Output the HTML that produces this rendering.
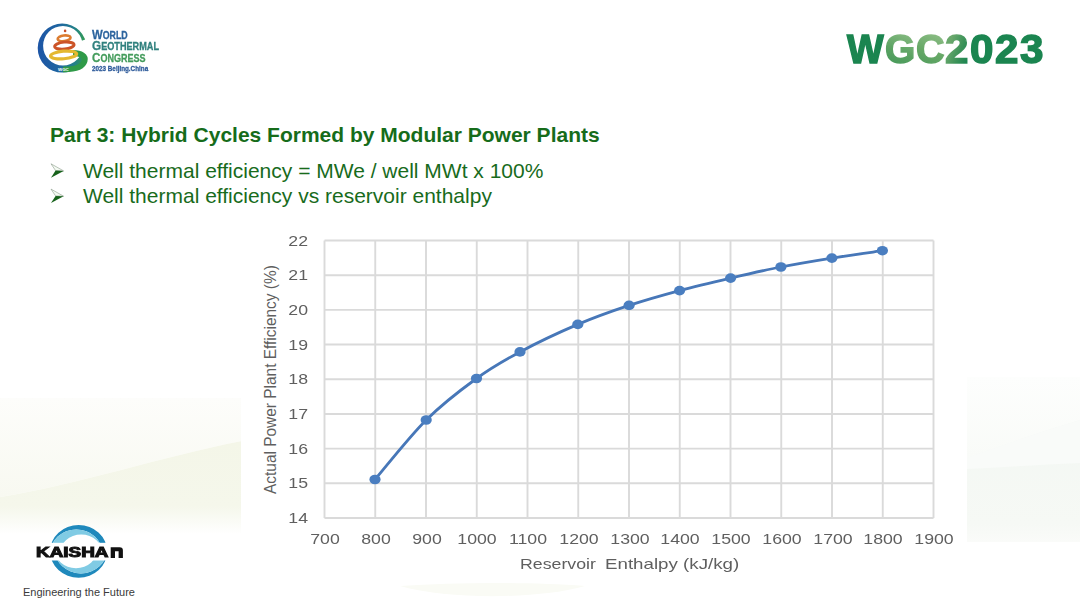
<!DOCTYPE html>
<html><head><meta charset="utf-8">
<style>
html,body{margin:0;padding:0;}
body{width:1080px;height:607px;position:relative;overflow:hidden;background:#fff;font-family:"Liberation Sans",sans-serif;}
.abs{position:absolute;white-space:nowrap;}
.title{left:50px;top:123px;font-size:21px;line-height:24px;font-weight:bold;color:#166c1a;}
.b{left:83px;font-size:21px;line-height:24px;color:#186b1c;}
.wg{top:19px;transform-origin:0 0;font-size:41px;line-height:60px;font-weight:bold;color:#1b8550;-webkit-text-stroke:1.5px currentColor;}
.lt{left:92px;font-weight:bold;transform-origin:0 0;line-height:14px;-webkit-text-stroke:0.3px currentColor;}
.yl{left:262px;width:46px;text-align:right;font-size:15px;line-height:18px;color:#5f5f5f;transform-origin:100% 50%;transform:scaleX(1.18);}
.xl{top:529.5px;width:60px;text-align:center;font-size:15px;line-height:18px;color:#5f5f5f;transform:scaleX(1.18);}
</style></head><body>
<svg class="abs" style="left:0;top:0" width="1080" height="607" viewBox="0 0 1080 607">
  <defs>
    <linearGradient id="band" x1="0" y1="0" x2="0" y2="1">
      <stop offset="0" stop-color="#f8faf1" stop-opacity="0"/>
      <stop offset="0.25" stop-color="#f8faf1" stop-opacity="1"/>
      <stop offset="0.85" stop-color="#f6f8ec" stop-opacity="1"/>
      <stop offset="1" stop-color="#f8faf1" stop-opacity="0"/>
    </linearGradient>
  </defs>
  <linearGradient id="fadeL" x1="0" y1="0" x2="0" y2="1">
      <stop offset="0" stop-color="#f4f6e8"/>
      <stop offset="0.7" stop-color="#f5f7eb"/>
      <stop offset="1" stop-color="#ffffff"/>
  </linearGradient>
  <linearGradient id="topR" x1="0" y1="0" x2="0" y2="1">
      <stop offset="0" stop-color="#fdfefd"/>
      <stop offset="1" stop-color="#f9fbf8"/>
  </linearGradient>
  <linearGradient id="fadeR" x1="0" y1="0" x2="0" y2="1">
      <stop offset="0" stop-color="#f3f7f3"/>
      <stop offset="0.85" stop-color="#f6f9f5"/>
      <stop offset="1" stop-color="#fafbf9"/>
  </linearGradient>
  <linearGradient id="topL" x1="0" y1="0" x2="0" y2="1">
      <stop offset="0" stop-color="#fdfdfb"/>
      <stop offset="1" stop-color="#f8f9f1"/>
  </linearGradient>
  <path d="M0 398 L242 398 L242 441 C 160 457, 80 484, 0 497 Z" fill="url(#topL)"/>
  <path d="M0 497 C 80 484, 160 457, 242 441 L242 534 L0 534 Z" fill="url(#fadeL)"/>
  <path d="M966 377 L1080 377 L1080 420 C 1040 432, 1000 446, 966 458 Z" fill="url(#topR)"/>
  <path d="M966 458 C 1000 446, 1040 432, 1080 420 L1080 542 L966 542 Z" fill="url(#fadeR)"/>
  <path d="M966 458 C 1000 446, 1040 432, 1080 420 L1080 463 C 1040 465, 1000 467, 966 469 Z" fill="#f9fbf9"/>
</svg>

<!-- WGC logo -->
<svg class="abs" style="left:0;top:0" width="200" height="90" viewBox="0 0 200 90">
  <defs>
    <linearGradient id="ring" x1="0" y1="0" x2="1" y2="0">
      <stop offset="0" stop-color="#1d55a6"/>
      <stop offset="0.45" stop-color="#1f66a0"/>
      <stop offset="0.75" stop-color="#23808a"/>
      <stop offset="1" stop-color="#35a04a"/>
    </linearGradient>
    <linearGradient id="ringb" x1="0" y1="0" x2="1" y2="0">
      <stop offset="0" stop-color="#1f5fa6"/>
      <stop offset="0.5" stop-color="#1f7a8a"/>
      <stop offset="1" stop-color="#2f9e45"/>
    </linearGradient>
  </defs>
  <mask id="gap"><rect x="0" y="0" width="200" height="90" fill="#fff"/><path d="M62 48 L100 34 L100 62 Z" fill="#000"/></mask>
  <path d="M37.7 48.1 A24.5 24.5 0 1 0 86.7 48.1 A24.5 24.5 0 1 0 37.7 48.1 Z M43.1 45.8 A19.8 19.8 0 1 1 82.7 45.8 A19.8 19.8 0 1 1 43.1 45.8 Z" fill="url(#ring)" fill-rule="evenodd" mask="url(#gap)"/>
  <path d="M73 53 C 81 53, 86 56, 84.6 61 C 83 66.5, 76 69.6, 63 69.4" fill="none" stroke="#2f9a48" stroke-width="5.8"/>
  <ellipse cx="64.2" cy="38.3" rx="6.5" ry="2.8" fill="none" stroke="#dc7c30" stroke-width="2.6" transform="rotate(-8 64 39)"/>
  <ellipse cx="64.4" cy="45.6" rx="9.7" ry="3.5" fill="none" stroke="#cc5428" stroke-width="3" transform="rotate(-6 64.5 46)"/>
  <ellipse cx="63.6" cy="55" rx="13.1" ry="3.8" fill="none" stroke="#e4b830" stroke-width="3.2" transform="rotate(-5 63.5 55)"/>
  <circle cx="65.1" cy="30.9" r="1.3" fill="#c8502a"/>
  <text x="63.4" y="71.2" font-family="Liberation Sans" font-weight="bold" font-size="4.4" fill="#fff" text-anchor="middle">WGC</text>
</svg>
<div class="abs lt" style="top:26.7px;color:#2c649e;transform:scaleX(0.84)"><span style="font-size:13.5px">W</span><span style="font-size:10.5px">ORLD</span></div>
<div class="abs lt" style="top:38.3px;color:#30807e;transform:scaleX(0.87)"><span style="font-size:13.5px">G</span><span style="font-size:10.5px">EOTHERMAL</span></div>
<div class="abs lt" style="top:49.9px;color:#449c5c;transform:scaleX(0.86)"><span style="font-size:13.5px">C</span><span style="font-size:10.5px">ONGRESS</span></div>
<div class="abs lt" style="top:61.8px;font-size:7.8px;color:#2d5a9a;transform:scaleX(0.81)">2023 Beijing.China</div>

<div class="abs wg" style="left:847.2px;transform:scaleX(0.947)">W</div>
<div class="abs wg" style="left:884.9px;transform:scaleX(0.95);color:#5ea663;background:linear-gradient(200deg,#8cbd84 20%,#5aa262 55%,#3f9656 85%);-webkit-background-clip:text;background-clip:text;-webkit-text-fill-color:transparent;-webkit-text-stroke:1.5px transparent">G</div>
<div class="abs wg" style="left:915.5px;transform:scaleX(0.965);color:#6aac6a;background:linear-gradient(200deg,#90bf88 20%,#66a866 55%,#4a9a5a 85%);-webkit-background-clip:text;background-clip:text;-webkit-text-fill-color:transparent;-webkit-text-stroke:1.5px transparent">C</div>
<div class="abs wg" style="left:945px;transform:scaleX(1.026);color:#4b9a5c;background:linear-gradient(110deg,#6aa86c 30%,#3a9258 60%,#1f8752 80%);-webkit-background-clip:text;background-clip:text;-webkit-text-fill-color:transparent;-webkit-text-stroke:1.5px transparent">2</div>
<div class="abs wg" style="left:969.5px;transform:scaleX(1.026)">0</div>
<div class="abs wg" style="left:994.5px;transform:scaleX(1.026)">2</div>
<div class="abs wg" style="left:1019.9px;transform:scaleX(1.026)">3</div>

<div class="abs title">Part 3: Hybrid Cycles Formed by Modular Power Plants</div>
<svg class="abs" style="left:0;top:0" width="80" height="220" viewBox="0 0 80 220">
  <g id="arr">
    <path d="M51 163.8 L63.6 170.9 L55.6 170.6 Z" fill="#f4faf2" stroke="#8a9a8a" stroke-width="0.6"/>
    <path d="M55.6 170.6 L63.6 170.9 L51 177.8 Z" fill="#17621b"/>
  </g>
  <use href="#arr" transform="translate(0,25.3)"/>
</svg>
<div class="abs b" style="top:159px">Well thermal efficiency = MWe / well MWt x 100%</div>
<div class="abs b" style="top:184.3px">Well thermal efficiency vs reservoir enthalpy</div>

<!-- chart -->
<div class="abs" style="left:241px;top:222px;width:726px;height:362px;background:#fff"></div>
<svg class="abs" style="left:0;top:0" width="1080" height="607" viewBox="0 0 1080 607"><path d="M400 586 C 460 582, 530 582, 585 586 C 540 599, 450 600, 400 586 Z" fill="#fafbf5"/></svg>
<svg class="abs" style="left:0;top:0" width="1080" height="607" viewBox="0 0 1080 607">
  <g stroke="#dadada" stroke-width="1.9" fill="none">
<line x1="324.50" y1="240.5" x2="324.50" y2="518.0"/>
<line x1="375.25" y1="240.5" x2="375.25" y2="518.0"/>
<line x1="426.00" y1="240.5" x2="426.00" y2="518.0"/>
<line x1="476.75" y1="240.5" x2="476.75" y2="518.0"/>
<line x1="527.50" y1="240.5" x2="527.50" y2="518.0"/>
<line x1="578.25" y1="240.5" x2="578.25" y2="518.0"/>
<line x1="629.00" y1="240.5" x2="629.00" y2="518.0"/>
<line x1="679.75" y1="240.5" x2="679.75" y2="518.0"/>
<line x1="730.50" y1="240.5" x2="730.50" y2="518.0"/>
<line x1="781.25" y1="240.5" x2="781.25" y2="518.0"/>
<line x1="832.00" y1="240.5" x2="832.00" y2="518.0"/>
<line x1="882.75" y1="240.5" x2="882.75" y2="518.0"/>
<line x1="933.50" y1="240.5" x2="933.50" y2="518.0"/>
<line x1="324.5" y1="240.50" x2="933.5" y2="240.50"/>
<line x1="324.5" y1="275.19" x2="933.5" y2="275.19"/>
<line x1="324.5" y1="309.88" x2="933.5" y2="309.88"/>
<line x1="324.5" y1="344.56" x2="933.5" y2="344.56"/>
<line x1="324.5" y1="379.25" x2="933.5" y2="379.25"/>
<line x1="324.5" y1="413.94" x2="933.5" y2="413.94"/>
<line x1="324.5" y1="448.62" x2="933.5" y2="448.62"/>
<line x1="324.5" y1="483.31" x2="933.5" y2="483.31"/>
<line x1="324.5" y1="518.00" x2="933.5" y2="518.00"/>
  </g>
  <path d="M375.00 479.50 C383.53 469.58 409.28 436.83 426.20 420.00 C443.12 403.17 460.87 389.85 476.50 378.50 C492.13 367.15 503.12 360.92 520.00 351.90 C536.88 342.88 559.62 332.15 577.80 324.40 C595.98 316.65 612.13 311.03 629.10 305.40 C646.07 299.77 662.68 295.15 679.60 290.60 C696.52 286.05 713.72 282.03 730.60 278.10 C747.48 274.17 764.02 270.33 780.90 267.00 C797.78 263.67 814.98 260.82 831.90 258.10 C848.82 255.38 873.98 251.93 882.40 250.70" fill="none" stroke="#4777b8" stroke-width="2.8"/>
  <g fill="#4a7ec0">
<ellipse cx="375.0" cy="479.5" rx="5.6" ry="4.8"/>
<ellipse cx="426.2" cy="420.0" rx="5.6" ry="4.8"/>
<ellipse cx="476.5" cy="378.5" rx="5.6" ry="4.8"/>
<ellipse cx="520.0" cy="351.9" rx="5.6" ry="4.8"/>
<ellipse cx="577.8" cy="324.4" rx="5.6" ry="4.8"/>
<ellipse cx="629.1" cy="305.4" rx="5.6" ry="4.8"/>
<ellipse cx="679.6" cy="290.6" rx="5.6" ry="4.8"/>
<ellipse cx="730.6" cy="278.1" rx="5.6" ry="4.8"/>
<ellipse cx="780.9" cy="267.0" rx="5.6" ry="4.8"/>
<ellipse cx="831.9" cy="258.1" rx="5.6" ry="4.8"/>
<ellipse cx="882.4" cy="250.7" rx="5.6" ry="4.8"/>
  </g>
</svg>
<div class="abs yl" style="top:231.50px">22</div>
<div class="abs yl" style="top:266.19px">21</div>
<div class="abs yl" style="top:300.88px">20</div>
<div class="abs yl" style="top:335.56px">19</div>
<div class="abs yl" style="top:370.25px">18</div>
<div class="abs yl" style="top:404.94px">17</div>
<div class="abs yl" style="top:439.62px">16</div>
<div class="abs yl" style="top:474.31px">15</div>
<div class="abs yl" style="top:509.00px">14</div>
<div class="abs xl" style="left:295.20px">700</div>
<div class="abs xl" style="left:345.95px">800</div>
<div class="abs xl" style="left:396.70px">900</div>
<div class="abs xl" style="left:447.45px">1000</div>
<div class="abs xl" style="left:498.20px">1100</div>
<div class="abs xl" style="left:548.95px">1200</div>
<div class="abs xl" style="left:599.70px">1300</div>
<div class="abs xl" style="left:650.45px">1400</div>
<div class="abs xl" style="left:701.20px">1500</div>
<div class="abs xl" style="left:751.95px">1600</div>
<div class="abs xl" style="left:802.70px">1700</div>
<div class="abs xl" style="left:853.45px">1800</div>
<div class="abs xl" style="left:904.20px">1900</div>
<div class="abs" style="left:262px;top:494px;font-size:14.3px;line-height:17px;color:#5f5f5f;transform-origin:0 0;transform:rotate(-90deg) scale(1.08,1.1)">Actual Power Plant Efficiency (%)</div>
<div class="abs" style="left:520px;top:556px;font-size:14.3px;color:#5f5f5f;transform-origin:0 0;transform:scaleX(1.24)">Reservoir</div>
<div class="abs" style="left:605px;top:556px;font-size:14.3px;color:#5f5f5f;transform-origin:0 0;transform:scaleX(1.31)">Enthalpy (kJ/kg)</div>

<!-- kaishan -->
<svg class="abs" style="left:0;top:500px" width="160" height="107" viewBox="0 500 160 107">
  <clipPath id="khalf"><rect x="0" y="500" width="160" height="51.4"/></clipPath>
  <g id="kring" clip-path="url(#khalf)">
  <path d="M50.10 551.40 A28.5 26.3 0 1 0 107.10 551.40 A28.5 26.3 0 1 0 50.10 551.40 Z M50.10 553.60 A26.2 24.2 0 1 0 102.50 553.60 A26.2 24.2 0 1 0 50.10 553.60 Z" fill="#1f89bc" fill-rule="evenodd"/>
  <path d="M50.10 553.60 A26.2 24.2 0 1 0 102.50 553.60 A26.2 24.2 0 1 0 50.10 553.60 Z M59.60 554.20 A21.6 19.6 0 1 0 102.80 554.20 A21.6 19.6 0 1 0 59.60 554.20 Z" fill="#80cbe4" fill-rule="evenodd"/>
  </g>
  <use href="#kring" transform="rotate(180 78.6 551.4)"/>
  <rect x="45" y="542.8" width="70" height="17.7" fill="#fff"/>
</svg>
<div class="abs" style="left:35.5px;top:543.5px;font-size:14px;line-height:16px;font-weight:bold;color:#111;-webkit-text-stroke:1px #111;transform-origin:0 0;transform:scaleX(1.35)">KAISHA</div>
<svg class="abs" style="left:0;top:0" width="140" height="607" viewBox="0 0 140 607"><path d="M110.7 557.9 V547.3 H119.6 Q122.9 547.3 122.9 550.6 V557.9 H118.6 V551.2 H115 V557.9 Z" fill="#111"/></svg>
<div class="abs" style="left:23px;top:585.5px;font-size:11px;line-height:13px;color:#3a3a3a">Engineering the Future</div>
</body></html>
